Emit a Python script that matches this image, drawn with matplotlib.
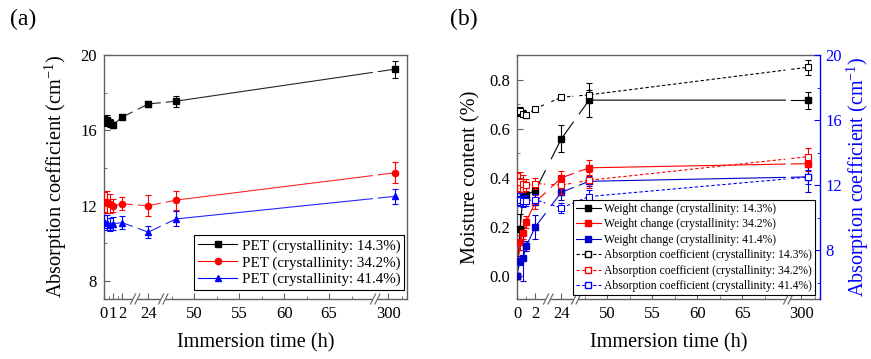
import numpy as np
import matplotlib
matplotlib.use("Agg")
import matplotlib.pyplot as plt
from matplotlib.lines import Line2D
from matplotlib.patches import Polygon

plt.rcParams["font.family"] = ["Liberation Serif", "DejaVu Serif"]
plt.rcParams["mathtext.fontset"] = "custom"
plt.rcParams["mathtext.rm"] = "Liberation Serif"
plt.rcParams["mathtext.it"] = "Liberation Serif:italic"

# ---- data ----
time_h = [0, 0.33, 0.67, 1, 2, 24, 48, 305]
labels_cryst = ["14.3%", "34.2%", "41.4%"]

abs_143 = [16.5, 16.55, 16.4, 16.3, 16.7, 17.4, 17.55, 19.25]
abs_342 = [12.2, 12.2, 12.1, 12.0, 12.1, 12.0, 12.3, 13.75]
abs_414 = [11.15, 11.1, 11.0, 11.05, 11.1, 10.6, 11.3, 12.5]
abs_143_err = [0.25, 0.25, 0.2, 0.15, 0.1, 0.15, 0.3, 0.45]
abs_342_err = [0.55, 0.6, 0.5, 0.35, 0.35, 0.55, 0.5, 0.55]
abs_414_err = [0.35, 0.4, 0.35, 0.35, 0.35, 0.3, 0.4, 0.4]

wc_143 = [0.0, 0.19, 0.33, 0.33, 0.347, 0.558, 0.716, 0.716]
wc_342 = [0.0, 0.136, 0.174, 0.219, 0.30, 0.399, 0.44, 0.457]
wc_414 = [0.0, 0.062, 0.072, 0.12, 0.199, 0.34, 0.385, 0.403]
wc_143_err = [0.0, 0.06, 0.01, 0.01, 0.035, 0.055, 0.07, 0.035]
wc_342_err = [0.0, 0.03, 0.025, 0.025, 0.03, 0.03, 0.03, 0.03]
wc_414_err = [0.0, 0.02, 0.095, 0.02, 0.05, 0.03, 0.02, 0.06]

# ---- broken x axis as a piecewise linear scale ----
T_KNOTS = [0, 3.4, 20.75, 27.75, 46.6, 70.1, 290.7, 313.6]
U_KNOTS = [0, 31, 31.5, 59, 59.5, 271, 271.5, 303]
BREAK_U = [31.25, 59.25, 271.25]
GAP = 3.0


def fwd(t):
    return np.interp(t, T_KNOTS, U_KNOTS)


def inv(u):
    return np.interp(u, U_KNOTS, T_KNOTS)


GRAY = "#606060"
COLORS = ["black", "#ff0000", "#0000ff"]


def setup_xaxis(ax, major, minor):
    ax.set_xscale("function", functions=(fwd, inv))
    ax.set_xlim(T_KNOTS[0], T_KNOTS[-1])
    ax.set_xticks(major)
    ax.set_xticklabels([str(m) for m in major])
    ax.set_xticks(minor, minor=True)
    ax.set_xlabel("Immersion time (h)", fontsize=14.6, labelpad=8)
    # break marks on the bottom spine
    w_px, h_px = 303.0, 244.0
    for ub in BREAK_U:
        xb = ub / U_KNOTS[-1]
        dx, dy = 1 / w_px, 1 / h_px
        lean, hh, sep = 2.5 * dx, 5 * dy, 2.2 * dx
        poly = Polygon([(xb - sep - lean, -hh), (xb + sep - lean, -hh),
                        (xb + sep + lean, hh), (xb - sep + lean, hh)],
                       closed=True, transform=ax.transAxes, facecolor="white",
                       edgecolor="none", clip_on=False, zorder=5)
        ax.add_patch(poly)
        for s in (-sep, sep):
            ax.plot([xb + s - lean, xb + s + lean], [-hh, hh], color=GRAY, lw=0.8,
                    transform=ax.transAxes, clip_on=False, zorder=6)


def broken_line(ax, t, y, **kw):
    u = fwd(np.asarray(t, float))
    y = np.asarray(y, float)
    xs, ys = [t[0]], [y[0]]
    for i in range(len(t) - 1):
        for ub in BREAK_U:
            if u[i] < ub < u[i + 1]:
                for uu, end in ((ub - GAP, True), (ub + GAP, False)):
                    yy = y[i] + (y[i + 1] - y[i]) * (uu - u[i]) / (u[i + 1] - u[i])
                    xs.append(float(inv(uu)))
                    ys.append(yy)
                    if end:
                        ax.plot(xs, ys, **kw)
                        xs, ys = [], []
        xs.append(t[i + 1])
        ys.append(y[i + 1])
    ax.plot(xs, ys, **kw)


def style_spines(ax):
    for sp in ax.spines.values():
        sp.set_color(GRAY)
        sp.set_linewidth(1.0)
    ax.tick_params(which="both", direction="in", top=False, right=False,
                   colors=GRAY, labelcolor="black", labelsize=12)
    ax.tick_params(which="major", length=4, pad=5)
    ax.tick_params(which="minor", length=2)


fig = plt.figure(figsize=(8.71, 3.59), dpi=100)
axa = fig.add_axes([0.1194, 0.1671, 0.3479, 0.6797])
axb = fig.add_axes([0.5936, 0.1671, 0.3479, 0.6797])

# ---- panel (a) ----
abs_sets = [(abs_143, abs_143_err), (abs_342, abs_342_err), (abs_414, abs_414_err)]
markers_a = ["s", "o", "^"]
handles_a = []
for (vals, err), c, m, lab in zip(abs_sets, COLORS, markers_a, labels_cryst):
    broken_line(axa, time_h, vals, color=c, lw=0.8, alpha=0.85)
    axa.errorbar(time_h, vals, yerr=err, fmt=m, color=c, ms=4.5, capsize=2.2,
                 elinewidth=0.8, capthick=0.8, zorder=4)
    handles_a.append(Line2D([], [], color=c, marker=m, ms=4.5, lw=0.8,
                            label=f"PET (crystallinity: {lab})"))
axa.set_ylim(7.05, 20)
axa.set_yticks([8, 12, 16, 20])
axa.set_yticks([10, 14, 18], minor=True)
axa.set_ylabel("Absorption coefficient (cm$^{-1}$)", fontsize=14.6, labelpad=8)
setup_xaxis(axa, [0, 1, 2, 24, 50, 55, 60, 65, 300],
            [0.5, 1.5, 47.5, 52.5, 57.5, 62.5, 67.5, 310])
style_spines(axa)
leg = axa.legend(handles=handles_a, loc="lower right", bbox_to_anchor=(0.99, 0.037),
                 fontsize=10.8, frameon=True, fancybox=False, framealpha=1,
                 edgecolor="black", handlelength=2.6, handletextpad=0.3,
                 borderpad=0.25, labelspacing=0.2, borderaxespad=0)
leg.get_frame().set_linewidth(0.8)

# ---- panel (b) ----
axb2 = axb.twinx()
wc_sets = [(wc_143, wc_143_err), (wc_342, wc_342_err), (wc_414, wc_414_err)]
wc_colors = ["black", "#ff0000", "#0000cc"]
handles_w, handles_abs = [], []
for (vals, err), c, lab in zip(wc_sets, wc_colors, labels_cryst):
    broken_line(axb, time_h, vals, color=c, lw=0.8)
    axb.errorbar(time_h, vals, yerr=err, fmt="s", color=c, ms=4.5, capsize=2.2,
                 elinewidth=0.8, capthick=0.8, zorder=4)
    handles_w.append(Line2D([], [], color=c, marker="s", ms=4.5, lw=0.8,
                            label=f"Weight change (crystallinity: {lab})"))
for (vals, err), c, lab in zip(abs_sets, COLORS, labels_cryst):
    broken_line(axb2, time_h, vals, color=c, lw=0.8, ls=(0, (3, 2)))
    axb2.errorbar(time_h, vals, yerr=err, fmt="s", color=c, mfc="white", ms=4.5,
                  mew=0.8, capsize=2.2, elinewidth=0.8, capthick=0.8, zorder=4)
    handles_abs.append(Line2D([], [], color=c, marker="s", mfc="white", ms=4.5,
                              lw=0.8, ls=(0, (3, 2)),
                              label=f"Absorption coefficient (crystallinity: {lab})"))

axb.set_ylim(-0.095, 0.9)
axb.set_yticks([0.0, 0.2, 0.4, 0.6, 0.8])
axb.set_yticklabels(["0.0", "0.2", "0.4", "0.6", "0.8"])
axb.set_yticks([0.1, 0.3, 0.5, 0.7], minor=True)
axb.set_ylabel("Moisture content (%)", fontsize=14.6, labelpad=6)
setup_xaxis(axb, [0, 2, 24, 50, 55, 60, 65, 300],
            [1, 47.5, 52.5, 57.5, 62.5, 67.5, 310])
style_spines(axb)
axb.spines["right"].set_visible(False)

axb2.set_ylim(5, 20)
axb2.set_yticks([8, 12, 16, 20])
axb2.set_yticks([6, 10, 14, 18], minor=True)
for name in ("left", "top", "bottom"):
    axb2.spines[name].set_visible(False)
axb2.spines["right"].set_color("#0000ff")
axb2.spines["right"].set_linewidth(1.0)
axb2.tick_params(which="both", direction="in", colors="#0000ff", labelsize=12)
axb2.tick_params(which="major", length=4, pad=4)
axb2.tick_params(which="minor", length=2)
axb2.set_ylabel("Absorption coefficient (cm$^{-1}$)", fontsize=14.4, color="#0000ff",
                labelpad=2)

legb = axb2.legend(handles=handles_w + handles_abs, loc="lower right",
                   bbox_to_anchor=(0.983, 0.016), fontsize=8.4, frameon=True,
                   fancybox=False, framealpha=1, edgecolor="black",
                   handlelength=2.1, handletextpad=0.3, borderpad=0.25,
                   labelspacing=0.3, borderaxespad=0)
legb.get_frame().set_linewidth(0.8)

fig.text(0.012, 0.975, "(a)", fontsize=17, va="top", ha="left")
fig.text(0.517, 0.975, "(b)", fontsize=17, va="top", ha="left")

fig.savefig("out.png", dpi=100)
